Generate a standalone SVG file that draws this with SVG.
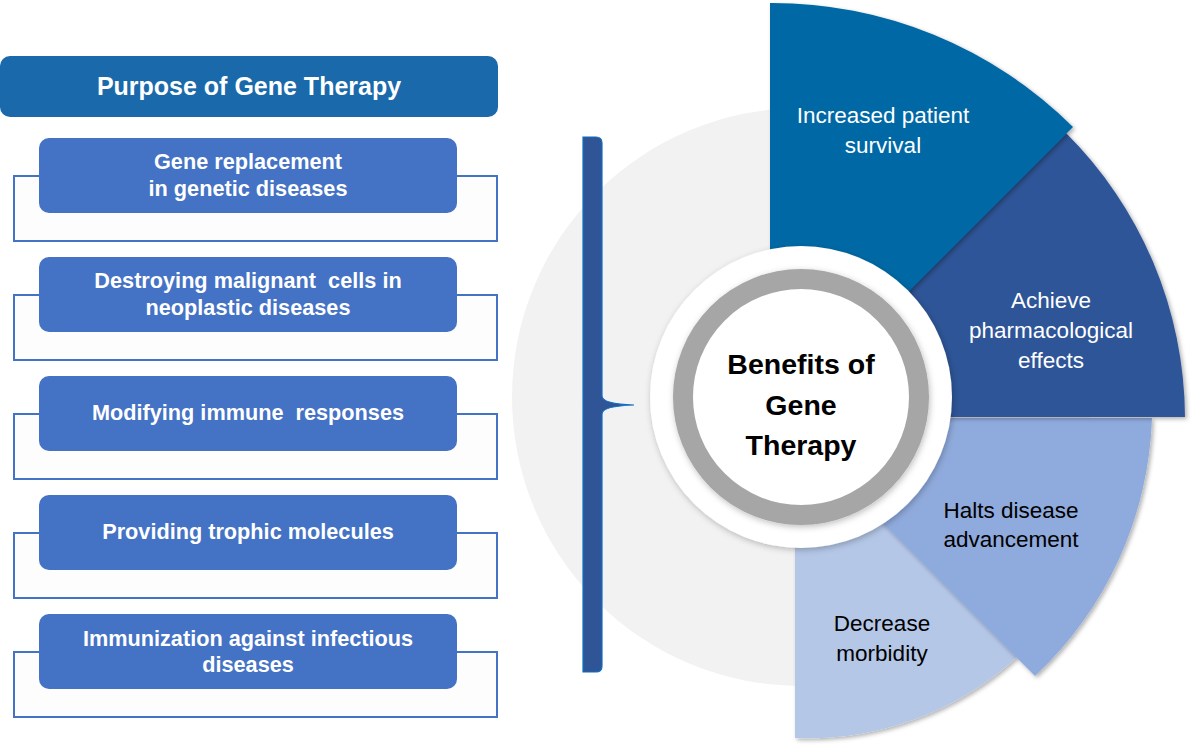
<svg xmlns="http://www.w3.org/2000/svg" width="1192" height="749" viewBox="0 0 1192 749">
<defs>
<filter id="sh" x="-10%" y="-10%" width="120%" height="120%"><feDropShadow dx="2" dy="2" stdDeviation="2" flood-color="#000" flood-opacity="0.3"/></filter>
<filter id="sh2" x="-10%" y="-10%" width="120%" height="120%"><feDropShadow dx="1" dy="2" stdDeviation="3" flood-color="#000" flood-opacity="0.25"/></filter>
<style>
.t{font-family:"Liberation Sans",Arial,sans-serif;text-anchor:middle}
.bx{font-size:21.7px;font-weight:bold;fill:#fff}
.sec{font-size:22.5px;fill:#fff}
.secd{font-size:22.5px;fill:#000}
.box{fill:#4472C4}
.out{fill:#FDFDFD;stroke:#4472C4;stroke-width:2}
</style>
</defs>
<rect width="1192" height="749" fill="#fff"/>
<g id="title"><rect x="0" y="56" width="498" height="61" rx="10" fill="#1A69AA"/><text class="t" x="249" y="95" font-size="25" font-weight="bold" fill="#fff">Purpose of Gene Therapy</text></g>
<g id="p1"><rect class="out" x="14" y="176" width="483" height="65"/><rect class="box" x="39" y="138" width="418" height="75" rx="10"/><text class="t bx" x="248" y="169">Gene replacement</text><text class="t bx" x="248" y="196">in genetic diseases</text></g>
<g id="p2"><rect class="out" x="14" y="295" width="483" height="65"/><rect class="box" x="39" y="257" width="418" height="75" rx="10"/><text class="t bx" x="248" y="288" xml:space="preserve">Destroying malignant  cells in</text><text class="t bx" x="248" y="315">neoplastic diseases</text></g>
<g id="p3"><rect class="out" x="14" y="414" width="483" height="65"/><rect class="box" x="39" y="376" width="418" height="75" rx="10"/><text class="t bx" x="248" y="420" xml:space="preserve">Modifying immune  responses</text></g>
<g id="p4"><rect class="out" x="14" y="533" width="483" height="65"/><rect class="box" x="39" y="495" width="418" height="75" rx="10"/><text class="t bx" x="248" y="539">Providing trophic molecules</text></g>
<g id="p5"><rect class="out" x="14" y="652" width="483" height="65"/><rect class="box" x="39" y="614" width="418" height="75" rx="10"/><text class="t bx" x="248" y="646">Immunization against infectious</text><text class="t bx" x="248" y="672">diseases</text></g>
<g id="bg"><circle cx="801" cy="397" r="289" fill="#F2F2F2"/></g>
<g id="connectors"><path d="M583,137 L596,137 Q602,137 602,143 L602,396 Q602,404 634,405 Q602,406 602,414 L602,666 Q602,672 596,672 L583,672 Z" fill="#2F5597" stroke="#0F6EC0" stroke-width="1.2"/></g>
<g id="s4"><path d="M795,435 L1017,657 A310,310 0 0 1 795,738 Z" fill="#B4C7E7" filter="url(#sh)"/><text class="t secd" x="882" y="631">Decrease</text><text class="t secd" x="882" y="661">morbidity</text></g>
<g id="s3"><path d="M778,418 L1152,418 A370,370 0 0 1 1035,676 Z" fill="#8FAADC" filter="url(#sh)"/><text class="t secd" x="1011" y="518">Halts disease</text><text class="t secd" x="1011" y="547">advancement</text></g>
<g id="s2"><path d="M780,417 L1065,132 A404,404 0 0 1 1185,417 Z" fill="#2F5597" filter="url(#sh)"/><text class="t sec" x="1051" y="308">Achieve</text><text class="t sec" x="1051" y="338">pharmacological</text><text class="t sec" x="1051" y="368">effects</text></g>
<g id="s1"><path d="M770,430 L770,3 A427,427 0 0 1 1073,127 Z" fill="#0569A5" filter="url(#sh)"/><text class="t sec" x="883" y="123">Increased patient</text><text class="t sec" x="883" y="153">survival</text></g>
<g id="center"><circle cx="801" cy="397" r="151" fill="#fff" filter="url(#sh2)"/><circle cx="801" cy="397" r="118" fill="#fff" stroke="#A6A6A6" stroke-width="20" filter="url(#sh2)"/><text class="t" x="801" y="374" font-size="28.5" font-weight="bold" fill="#000">Benefits of</text><text class="t" x="801" y="415" font-size="28.5" font-weight="bold" fill="#000">Gene</text><text class="t" x="801" y="455" font-size="28.5" font-weight="bold" fill="#000">Therapy</text></g>
</svg>
